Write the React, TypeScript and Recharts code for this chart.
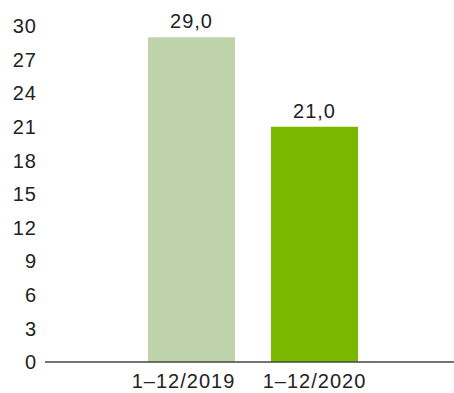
import React from "react";
import { BarChart, Bar, XAxis, YAxis, LabelList, Cell } from "recharts";

const categories = ["1–12/2019", "1–12/2020"];
const values = [29.0, 21.0];
const colors = ["#bed3a9", "#7ab800"];
const yTicks = [0, 3, 6, 9, 12, 15, 18, 21, 24, 27, 30];

const data = categories.map((c, i) => ({ name: c, value: values[i] }));

const FONT = "'Liberation Sans', Arial, sans-serif";
const textStyle = { fill: "#222", fontSize: 20, fontFamily: FONT, letterSpacing: 1 };
const xTickShift = [-8, 0];

const XTick = (props: any) => {
  const { x, y, payload, index } = props;
  return (
    <text
      x={x + (xTickShift[index] || 0)}
      y={y}
      dy="0.71em"
      textAnchor="middle"
      style={textStyle}
    >
      {payload.value}
    </text>
  );
};

export default function App() {
  return (
    <div style={{ position: "absolute", left: 0, top: 0, width: 454, height: 393, background: "#fff" }}>
      <BarChart
        width={454}
        height={393}
        data={data}
        margin={{ top: 26, right: 0, bottom: 0, left: 0 }}
      >
        <YAxis
          width={45}
          domain={[0, 30]}
          ticks={yTicks}
          axisLine={false}
          tickLine={false}
          interval={0}
          tick={textStyle}
        />
        <XAxis
          dataKey="name"
          height={31}
          padding={{ left: 85, right: 78 }}
          axisLine={{ stroke: "#444", strokeWidth: 1.5 }}
          tickLine={false}
          tickMargin={6}
          interval={0}
          tick={<XTick />}
        />
        <Bar dataKey="value" barSize={87} isAnimationActive={false}>
          {data.map((d, i) => (
            <Cell key={d.name} fill={colors[i]} />
          ))}
          <LabelList
            dataKey="value"
            position="top"
            offset={9}
            formatter={(v: number) => v.toFixed(1).replace(".", ",")}
            style={textStyle}
          />
        </Bar>
      </BarChart>
    </div>
  );
}
